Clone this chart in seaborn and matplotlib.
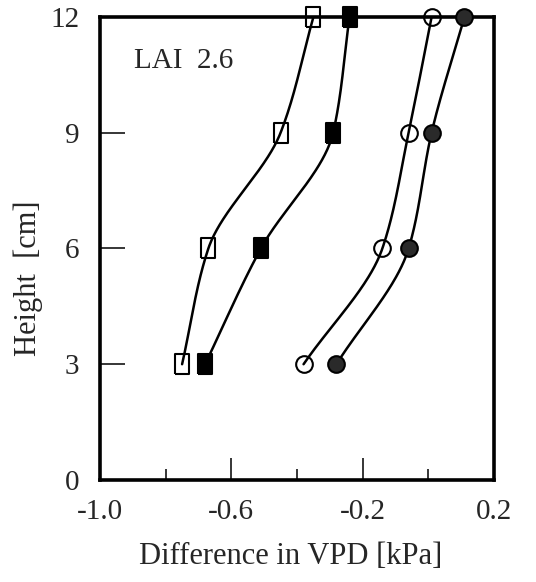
import numpy as np
import matplotlib
matplotlib.use("Agg")
import matplotlib.pyplot as plt
import seaborn as sns

heights = [3, 6, 9, 12]
open_sq = [-0.75, -0.67, -0.45, -0.35]
filled_sq = [-0.68, -0.51, -0.29, -0.24]
open_ci = [-0.38, -0.14, -0.06, 0.01]
filled_ci = [-0.28, -0.06, 0.01, 0.11]

x_major = [-1.0, -0.6, -0.2, 0.2]
x_minor = [-0.8, -0.4, 0.0]
y_ticks = [0, 3, 6, 9, 12]


def pchip(xk, yk, xnew):
    xk = np.asarray(xk, float)
    yk = np.asarray(yk, float)
    h = np.diff(xk)
    d = np.diff(yk) / h
    n = len(xk)
    m = np.zeros(n)
    for i in range(1, n - 1):
        if d[i - 1] * d[i] > 0:
            w1 = 2 * h[i] + h[i - 1]
            w2 = h[i] + 2 * h[i - 1]
            m[i] = (w1 + w2) / (w1 / d[i - 1] + w2 / d[i])
    m[0] = d[0]
    m[-1] = d[-1]
    out = np.empty_like(xnew)
    for j, x in enumerate(xnew):
        i = min(np.searchsorted(xk, x, side='right') - 1, n - 2)
        t = (x - xk[i]) / h[i]
        h00 = 2 * t**3 - 3 * t**2 + 1
        h10 = t**3 - 2 * t**2 + t
        h01 = -2 * t**3 + 3 * t**2
        h11 = t**3 - t**2
        out[j] = h00 * yk[i] + h10 * h[i] * m[i] + h01 * yk[i + 1] + h11 * h[i] * m[i + 1]
    return out


sns.set_theme(style="white")
plt.rcParams['font.family'] = ['Liberation Serif', 'DejaVu Serif']

fig = plt.figure(figsize=(5.36, 5.82), dpi=100)
ax = fig.add_axes([0.1866, 0.1753, 0.735, 0.7955])

rect = [(-0.72, -1), (0.72, -1), (0.72, 1), (-0.72, 1), (-0.72, -1)]

series = [
    (open_sq, rect, 'none', 'black', 15),
    (filled_sq, rect, 'black', 'black', 15),
    (open_ci, 'o', 'none', 'black', 12),
    (filled_ci, 'o', '#2a2a2a', 'black', 12),
]

for xs, mk, fc, ec, ms in series:
    yy = np.linspace(heights[0], heights[-1], 200)
    xx = pchip(heights, xs, yy)
    sns.lineplot(x=xx, y=yy, orient='y', sort=False, color='black', lw=1.8, ax=ax)
    ax.plot(xs, heights, linestyle='none', marker=mk, markersize=ms,
            markerfacecolor=fc, markeredgecolor=ec, markeredgewidth=1.5,
            clip_on=False, zorder=5)

ax.set_xlim(-1.0, 0.2)
ax.set_ylim(0, 12)
ax.set_xticks(x_major)
ax.set_xticklabels(["-1.0", "-0.6", "-0.2", "0.2"])
ax.set_xticks(x_minor, minor=True)
ax.set_yticks(y_ticks)
ax.set_yticklabels([str(v) for v in y_ticks])

ax.tick_params(axis='x', which='major', direction='in', length=16, width=1.3,
               labelsize=21, pad=14, bottom=True)
ax.tick_params(axis='x', which='minor', direction='in', length=8, width=1.3, bottom=True)
ax.tick_params(axis='y', direction='in', length=18, width=1.3, labelsize=21, pad=15, left=True)

for s in ax.spines.values():
    s.set_linewidth(2.6)
    s.set_color('black')

ax.set_xlabel("Difference in VPD [kPa]", fontsize=22)
ax.xaxis.set_label_coords(0.485, -0.135)
ax.xaxis.label.set_va('top')
ax.set_ylabel("Height  [cm]", fontsize=22)
ax.yaxis.set_label_coords(-0.145, 0.436)
ax.text(0.085, 0.905, "LAI  2.6", transform=ax.transAxes, fontsize=21, va='center', ha='left')

fig.savefig("out.png", dpi=100)
